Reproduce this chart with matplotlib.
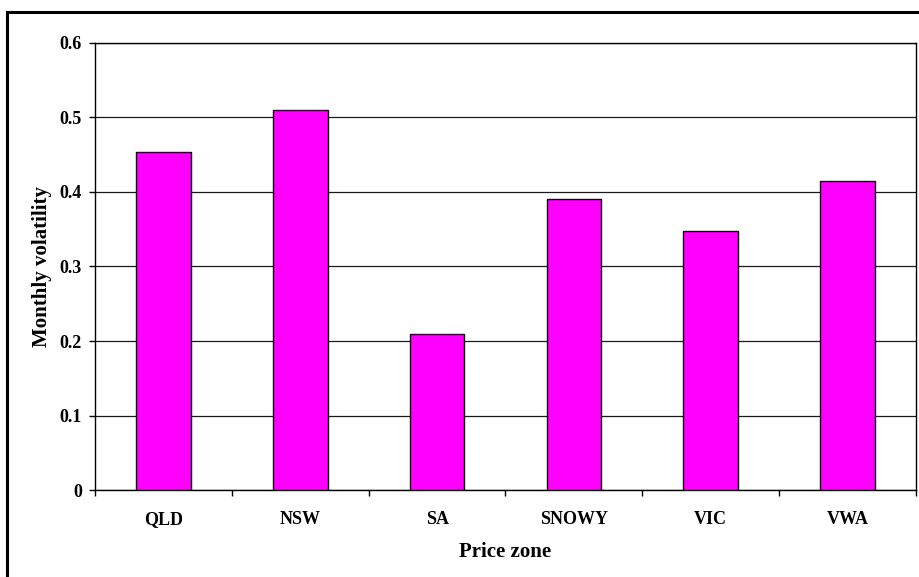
import matplotlib
matplotlib.use("Agg")
import matplotlib.pyplot as plt
from matplotlib.patches import Rectangle

zones = ["QLD", "NSW", "SA", "SNOWY", "VIC", "VWA"]
volatility = [0.453, 0.510, 0.210, 0.390, 0.347, 0.415]
y_ticks = [0, 0.1, 0.2, 0.3, 0.4, 0.5, 0.6]
y_tick_labels = ["0", "0.1", "0.2", "0.3", "0.4", "0.5", "0.6"]

plt.rcParams["font.family"] = ["Liberation Serif", "DejaVu Serif"]
plt.rcParams["font.weight"] = "bold"

fig = plt.figure(figsize=(9.2, 5.77), dpi=100)
W, H = 920, 577

# chart frame (left and top edges visible)
fig.patches.append(Rectangle((7 / W, -0.05), 1.0, (H - 12) / H + 0.05,
                             transform=fig.transFigure, fill=False,
                             edgecolor="black", linewidth=2.2, zorder=0))

ax = fig.add_axes([95 / W, (H - 490.3) / H, 821 / W, (490.3 - 42.5) / H])

x = list(range(len(zones)))
ax.bar(x, volatility, width=0.40, color="#FF00FF", edgecolor="black",
       linewidth=1.0, zorder=3)

ax.set_xlim(-0.5, len(zones) - 0.5)
ax.set_ylim(0, 0.6)

ax.set_yticks(y_ticks)
ax.set_yticklabels(y_tick_labels, fontsize=13, fontweight="bold")
ax.yaxis.grid(True, color="#1a1a1a", linewidth=0.9, zorder=0)
ax.set_axisbelow(True)

ax.set_xticks(x)
ax.set_xticklabels(zones, fontsize=13, fontweight="bold")
ax.set_xticks([i - 0.5 for i in range(len(zones) + 1)], minor=True)
ax.tick_params(axis="x", which="major", length=0, pad=15)
ax.tick_params(axis="x", which="minor", length=4, width=1.0, direction="out")
ax.tick_params(axis="y", which="major", length=4.5, width=1.0, direction="out", pad=5)

for s in ax.spines.values():
    s.set_linewidth(1.0)
    s.set_color("black")

ax.set_xlabel("Price zone", fontsize=15, fontweight="bold", labelpad=10)
ax.set_ylabel("Monthly volatility", fontsize=15, fontweight="bold", labelpad=5.5)

fig.savefig("out.png", dpi=100)
